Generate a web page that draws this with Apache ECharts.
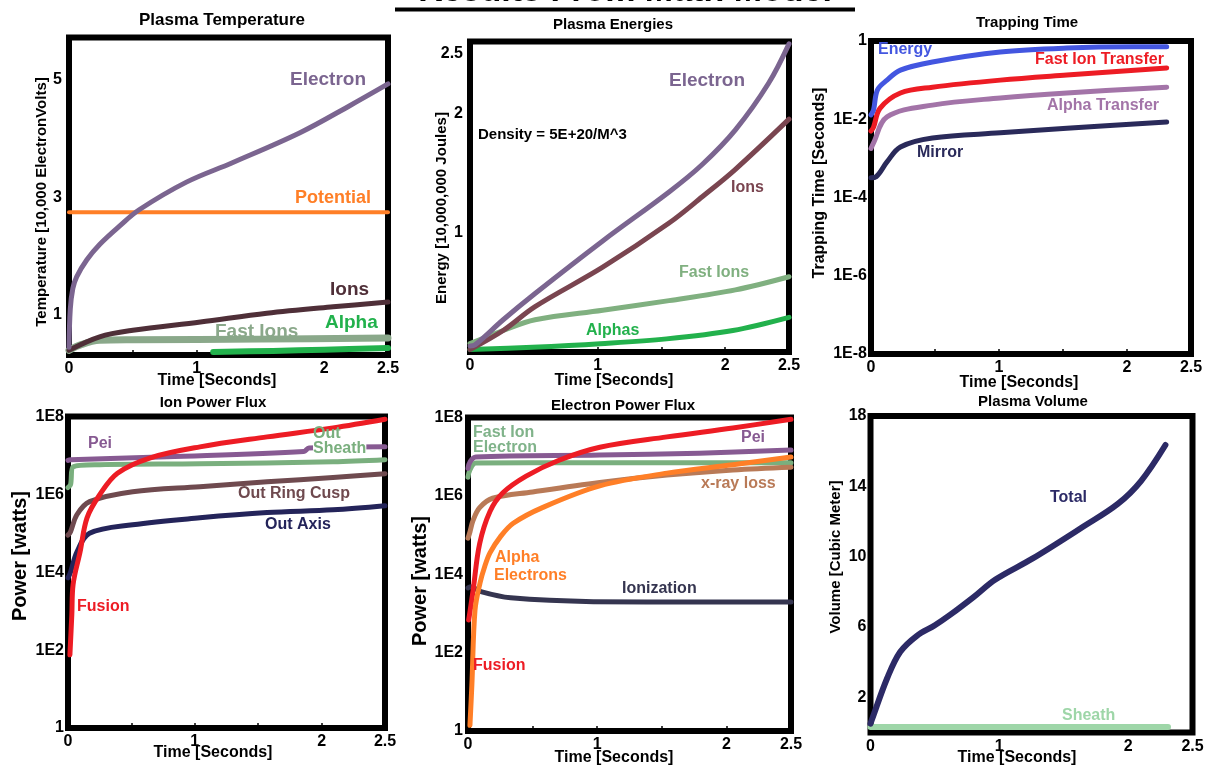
<!DOCTYPE html>
<html>
<head>
<meta charset="utf-8">
<script src="https://cdn.jsdelivr.net/npm/echarts@6/dist/echarts.min.js"></script>
<style>
  html, body { margin: 0; padding: 0; background: #fff; }
  #main { width: 1208px; height: 771px; }
</style>
</head>
<body>
<div id="main"></div>
<script>
// ---- data: [time in seconds, value] ----
var tempElectron = [[0, 0.45], [0.01, 1.1], [0.03, 1.45], [0.06, 1.65], [0.14, 1.94], [0.24, 2.2], [0.4, 2.52], [0.55, 2.79], [0.92, 3.26], [1.28, 3.59], [1.81, 4.1], [2.2, 4.56], [2.5, 4.93]];
var tempPotential = [[0, 2.75], [2.5, 2.75]];
var tempIons = [[0, 0.4], [0.24, 0.63], [0.5, 0.74], [1.03, 0.88], [1.55, 1.03], [2.07, 1.14], [2.5, 1.22]];
var tempFastIons = [[0, 0.4], [0.1, 0.5], [0.24, 0.57], [0.5, 0.58], [1.5, 0.59], [2.5, 0.61]];
var tempAlpha = [[1.13, 0.37], [1.6, 0.39], [2.0, 0.41], [2.5, 0.44]];

var energyElectron = [[0, 0.05], [0.04, 0.06], [0.26, 0.27], [0.51, 0.49], [1.04, 0.93], [1.56, 1.34], [1.82, 1.57], [2.08, 1.86], [2.34, 2.25], [2.5, 2.58]];
var energyIons = [[0, 0.02], [0.26, 0.18], [0.51, 0.38], [1.04, 0.71], [1.56, 1.08], [1.82, 1.3], [2.08, 1.53], [2.5, 1.95]];
var energyFastIons = [[0, 0.07], [0.26, 0.18], [0.51, 0.27], [1.04, 0.35], [1.56, 0.43], [2.08, 0.52], [2.5, 0.63]];
var energyAlphas = [[0, 0.02], [0.49, 0.04], [1.02, 0.07], [1.54, 0.11], [2.06, 0.18], [2.5, 0.29]];

var trapEnergy = [[0, 0.0129], [0.02, 0.0174], [0.05, 0.056], [0.125, 0.1], [0.23, 0.18], [0.48, 0.29], [1.01, 0.52], [1.53, 0.66], [2.05, 0.71], [2.31, 0.71]];
var trapFastIon = [[0, 0.005], [0.02, 0.0063], [0.07, 0.019], [0.23, 0.047], [0.48, 0.066], [1.01, 0.1], [1.53, 0.135], [2.31, 0.205]];
var trapAlpha = [[0, 0.0018], [0.02, 0.0025], [0.125, 0.0115], [0.48, 0.023], [1.01, 0.035], [1.53, 0.047], [2.31, 0.066]];
var trapMirror = [[0, 0.00032], [0.04, 0.00034], [0.125, 0.00081], [0.23, 0.00195], [0.48, 0.0033], [1.01, 0.0045], [1.53, 0.0059], [2.31, 0.0085]];

var ionPei = [[0, 7.5e6], [0.02, 7.8e6], [0.78, 9.3e6], [1.86, 1.27e7], [1.9, 1.55e7], [2.5, 1.66e7]];
var ionSheath = [[0, 1.5e6], [0.02, 1.78e6], [0.04, 5.1e6], [0.25, 5.8e6], [1.04, 6.1e6], [2.09, 6.9e6], [2.5, 7.8e6]];
var ionFusion = [[0.015, 76], [0.03, 800], [0.04, 4.8e3], [0.095, 3.3e4], [0.15, 2.5e5], [0.25, 9.8e5], [0.39, 3.5e6], [0.65, 8.7e6], [1.04, 1.66e7], [1.57, 3.0e7], [2.09, 5.1e7], [2.5, 8.5e7]];
var ionRingCusp = [[0, 9e4], [0.02, 1.1e5], [0.07, 3.0e5], [0.17, 6.5e5], [0.51, 1.17e6], [1.04, 1.58e6], [1.57, 2.1e6], [2.09, 2.7e6], [2.5, 3.4e6]];
var ionAxis = [[0, 7.2e3], [0.02, 1.0e4], [0.07, 3.3e4], [0.17, 1.0e5], [0.51, 1.66e5], [1.04, 2.5e5], [1.57, 3.4e5], [2.09, 4.0e5], [2.5, 5.1e5]];

var elFastIon = [[0, 3e6], [0.015, 4.6e6], [0.06, 6.9e6], [1.0, 7.0e6], [2.5, 7.0e6]];
var elPei = [[0, 5e6], [0.015, 7.3e6], [0.06, 9.8e6], [1.02, 1.1e7], [1.79, 1.23e7], [2.5, 1.48e7]];
var elFusion = [[0.005, 680], [0.015, 1.1e3], [0.04, 4e3], [0.09, 6e4], [0.17, 4e5], [0.27, 1.2e6], [0.45, 3.2e6], [0.7, 8e6], [1.02, 1.74e7], [1.54, 3.2e7], [2.05, 5.4e7], [2.5, 9e7]];
var elAlpha = [[0.015, 1.4], [0.03, 15], [0.054, 1.2e3], [0.093, 6e3], [0.13, 1.6e4], [0.17, 3.5e4], [0.25, 9e4], [0.35, 2e5], [0.58, 5.1e5], [1.02, 1.8e6], [1.54, 3.8e6], [2.05, 6.2e6], [2.5, 9.8e6]];
var elXray = [[0, 8.3e4], [0.015, 1.2e5], [0.04, 2.4e5], [0.09, 5e5], [0.19, 8.7e5], [0.5, 1.26e6], [1.02, 2.2e6], [1.54, 3.4e6], [2.05, 4.6e6], [2.5, 5.4e6]];
var elIonization = [[0, 4.5e3], [0.02, 4.8e3], [0.1, 3.6e3], [0.33, 2.5e3], [0.97, 2.0e3], [1.79, 1.95e3], [2.5, 1.95e3]];

var volTotal = [[0, 0.5], [0.01, 0.71], [0.13, 3.1], [0.23, 4.58], [0.36, 5.5], [0.5, 6.1], [0.62, 6.7], [0.8, 7.7], [0.97, 8.7], [1.26, 9.9], [1.65, 11.7], [1.92, 13.0], [2.1, 14.3], [2.29, 16.35]];
var volSheath = [[0, 0.31], [2.31, 0.31]];

// ---- tick labels ----
var timeTicks = [0, 1, 2, 2.5];
var tempTicks = [1, 3, 5];
var energyTicks = [1, 2, 2.5];
var volumeTicks = [2, 6, 10, 14, 18];
var trapTickExp = [-8, -6, -4, -2, 0];
var trapTickLabels = ['1E-8', '1E-6', '1E-4', '1E-2', '1'];
var powerTickExp = [0, 2, 4, 6, 8];
var powerTickLabels = ['1', '1E2', '1E4', '1E6', '1E8'];

// ---- layout ----
var FONT = '"Liberation Sans", Arial, Helvetica, sans-serif';
var grids = [
  { left: 69, top: 37.5, width: 319, height: 317.5 },
  { left: 470, top: 41.5, width: 319, height: 310.5 },
  { left: 871, top: 41, width: 320, height: 313 },
  { left: 68, top: 416.5, width: 317, height: 311.5 },
  { left: 468, top: 417.5, width: 323, height: 313.5 },
  { left: 870.5, top: 416, width: 322, height: 316.5 }
];
var yMargins = [7, 7, 4, 4, 5, 4];

function expFormatter(exps, labels) {
  return function (v) {
    var e = Math.round(Math.log10(v));
    var i = exps.indexOf(e);
    return i >= 0 ? labels[i] : '';
  };
}

var labelStyle = { fontSize: 16, fontWeight: 'bold', color: '#000', fontFamily: FONT };

var xAxes = grids.map(function (g, i) {
  return {
    type: 'value', gridIndex: i, min: 0, max: 2.5,
    axisLine: { show: false },
    splitLine: { show: false },
    axisTick: { show: true, inside: true, length: 5, lineStyle: { color: '#000', width: 1.5 }, customValues: [0.5, 1, 1.5, 2] },
    axisLabel: Object.assign({ customValues: timeTicks, margin: 6 }, labelStyle)
  };
});

var yAxes = [
  { type: 'value', min: 0.32, max: 5.72, axisLabel: { customValues: tempTicks } },
  { type: 'value', min: 0, max: 2.6, axisLabel: { customValues: energyTicks } },
  { type: 'log', logBase: 10, min: 1e-8, max: 1, axisLabel: { formatter: expFormatter(trapTickExp, trapTickLabels) } },
  { type: 'log', logBase: 10, min: 1, max: 1e8, axisLabel: { formatter: expFormatter(powerTickExp, powerTickLabels) } },
  { type: 'log', logBase: 10, min: 1, max: 1e8, axisLabel: { formatter: expFormatter(powerTickExp, powerTickLabels) } },
  { type: 'value', min: 0, max: 18, axisLabel: { customValues: volumeTicks } }
].map(function (a, i) {
  a.gridIndex = i;
  a.axisLine = { show: false };
  a.axisTick = { show: false };
  a.splitLine = { show: false };
  a.minorTick = { show: false };
  Object.assign(a.axisLabel, labelStyle, { margin: yMargins[i], hideOverlap: false });
  return a;
});

function line(gi, name, data, color, width) {
  return {
    type: 'line', name: name, xAxisIndex: gi, yAxisIndex: gi, data: data,
    symbol: 'none', smooth: 0.35,
    lineStyle: { color: color, width: width || 5, cap: 'round', join: 'round' },
    itemStyle: { color: color }, z: 3, silent: true
  };
}

var series = [
  line(0, 'Potential', tempPotential, '#ff7f27', 4),
  line(0, 'Fast Ions', tempFastIons, '#8aa88a', 7),
  line(0, 'Alpha', tempAlpha, '#22b14c', 6),
  line(0, 'Ions', tempIons, '#4f2f38', 5),
  line(0, 'Electron', tempElectron, '#7b6590', 5),

  line(1, 'Alphas', energyAlphas, '#22b14c', 5),
  line(1, 'Fast Ions', energyFastIons, '#80b080', 5),
  line(1, 'Ions', energyIons, '#7a4550', 5),
  line(1, 'Electron', energyElectron, '#7b6590', 5),

  line(2, 'Mirror', trapMirror, '#2a2a5a', 5),
  line(2, 'Alpha Transfer', trapAlpha, '#a374a8', 5),
  line(2, 'Fast Ion Transfer', trapFastIon, '#ed1c24', 5),
  line(2, 'Energy', trapEnergy, '#4356e0', 5),

  line(3, 'Out Axis', ionAxis, '#24245a', 5),
  line(3, 'Out Ring Cusp', ionRingCusp, '#6f4a4f', 5),
  line(3, 'Out Sheath', ionSheath, '#7aaf7e', 5),
  line(3, 'Pei', ionPei, '#875a92', 5),
  line(3, 'Fusion', ionFusion, '#ed1c24', 5),

  line(4, 'Ionization', elIonization, '#353550', 5),
  line(4, 'Fast Ion Electron', elFastIon, '#7aaf7e', 5),
  line(4, 'Pei', elPei, '#875a92', 5),
  line(4, 'x-ray loss', elXray, '#b97a57', 5),
  line(4, 'Fusion', elFusion, '#ed1c24', 5),
  line(4, 'Alpha Electrons', elAlpha, '#ff7f27', 5),

  line(5, 'Sheath', volSheath, '#9ed6a8', 6),
  line(5, 'Total', volTotal, '#2c2a66', 6)
];

function txt(text, x, y, color, size, align, extra) {
  var el = {
    type: 'text', x: x, y: y, z: 10, silent: true,
    style: {
      text: text, fill: color, fontSize: size, fontWeight: 'bold', fontFamily: FONT,
      align: align || 'left', verticalAlign: 'middle'
    }
  };
  if (extra) Object.assign(el.style, extra);
  return el;
}
function vtxt(text, x, y, size) {
  var el = txt(text, x, y, '#000', size, 'center');
  el.rotation = Math.PI / 2;
  return el;
}

var graphics = [
  // main heading, cut off at the top edge
  txt('Results From Math Model', 625, -8, '#000', 34, 'center'),
  { type: 'rect', shape: { x: 395, y: 7.5, width: 460, height: 4 }, style: { fill: '#000' }, silent: true },

  // panel titles
  txt('Plasma Temperature', 222, 20, '#000', 17, 'center'),
  txt('Plasma Energies', 613, 25, '#000', 15, 'center'),
  txt('Trapping Time', 1027, 23, '#000', 15, 'center'),
  txt('Ion Power Flux', 213, 403, '#000', 15, 'center'),
  txt('Electron Power Flux', 623, 406, '#000', 15, 'center'),
  txt('Plasma Volume', 1033, 402, '#000', 15, 'center'),

  // x axis names
  txt('Time [Seconds]', 217, 381, '#000', 16, 'center'),
  txt('Time [Seconds]', 614, 381, '#000', 16, 'center'),
  txt('Time [Seconds]', 1019, 383, '#000', 16, 'center'),
  txt('Time [Seconds]', 213, 753, '#000', 16, 'center'),
  txt('Time [Seconds]', 614, 758, '#000', 16, 'center'),
  txt('Time [Seconds]', 1017, 758, '#000', 16, 'center'),

  // y axis names
  vtxt('Temperature [10,000 ElectronVolts]', 42, 202, 15),
  vtxt('Energy [10,000,000 Joules]', 442, 208, 15),
  vtxt('Trapping Time [Seconds]', 820, 183, 16),
  vtxt('Power [watts]', 20, 556, 20),
  vtxt('Power [watts]', 420, 581, 20),
  vtxt('Volume [Cubic Meter]', 836, 557, 15),

  // series labels
  txt('Electron', 290, 80, '#7b6590', 19),
  txt('Potential', 295, 198, '#ff7f27', 18),
  txt('Ions', 330, 290, '#4f2f38', 19),
  txt('Alpha', 325, 323, '#22b14c', 19),
  txt('Fast Ions', 215, 332, '#8aa88a', 19),

  txt('Electron', 669, 81, '#7b6590', 19),
  txt('Density = 5E+20/M^3', 478, 135, '#000', 15),
  txt('Ions', 731, 188, '#7a4550', 16),
  txt('Fast Ions', 679, 273, '#80b080', 16),
  txt('Alphas', 586, 331, '#22b14c', 16),

  txt('Energy', 878, 50, '#4356e0', 16),
  txt('Fast Ion Transfer', 1035, 60, '#ed1c24', 16),
  txt('Alpha Transfer', 1047, 106, '#a374a8', 16),
  txt('Mirror', 917, 153, '#2a2a5a', 16),

  txt('Pei', 88, 444, '#875a92', 16),
  txt('Out', 313, 434, '#7aaf7e', 16),
  txt('Sheath', 313, 449, '#7aaf7e', 16, 'left', { backgroundColor: '#fff' }),
  txt('Out Ring Cusp', 238, 494, '#6f4a4f', 16),
  txt('Out Axis', 265, 525, '#24245a', 16),
  txt('Fusion', 77, 607, '#ed1c24', 16),

  txt('Fast Ion', 473, 433, '#80b38a', 16),
  txt('Electron', 473, 448, '#80b38a', 16),
  txt('Pei', 741, 438, '#875a92', 16),
  txt('x-ray loss', 701, 484, '#b97a57', 16),
  txt('Alpha', 495, 558, '#ff7f27', 16),
  txt('Electrons', 494, 576, '#ff7f27', 16),
  txt('Ionization', 622, 589, '#353550', 16),
  txt('Fusion', 473, 666, '#ed1c24', 16),

  txt('Total', 1050, 498, '#2c2a66', 16),
  txt('Sheath', 1062, 716, '#9ed6a8', 16)
];

var chart = echarts.init(document.getElementById('main'), null, { renderer: 'canvas', width: 1208, height: 771 });

var option = {
  animation: false,
  backgroundColor: '#fff',
  grid: grids.map(function (g) {
    return Object.assign({ show: true, borderColor: '#000', borderWidth: 6, backgroundColor: '#fff', containLabel: false }, g);
  }),
  xAxis: xAxes,
  yAxis: yAxes,
  series: series,
  graphic: graphics
};

chart.setOption(option);
</script>
</body>
</html>
